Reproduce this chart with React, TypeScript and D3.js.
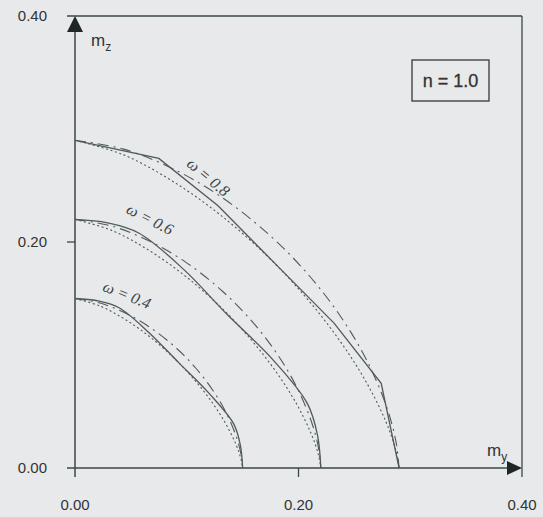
import React from "react";
import * as d3 from "d3";

type Pt = [number, number];

// Axis ticks
const xTicks = [0, 0.2, 0.4];
const yTicks = [0, 0.2, 0.4];
const tickLabels = ["0.00", "0.20", "0.40"];

// Interaction curves m_y – m_z for n = 1.0
const omegaLabels = ["ω = 0.4", "ω = 0.6", "ω = 0.8"];

const solid04: Pt[] = [[0, 0.150], [0.020, 0.148], [0.039, 0.142], [0.066, 0.120], [0.093, 0.093], [0.120, 0.066], [0.142, 0.039], [0.148, 0.020], [0.150, 0]];
const solid06: Pt[] = [[0, 0.220], [0.029, 0.217], [0.057, 0.208], [0.097, 0.176], [0.136, 0.136], [0.176, 0.097], [0.208, 0.057], [0.217, 0.029], [0.220, 0]];
const solid08: Pt[] = [[0, 0.290], [0.075, 0.274], [0.128, 0.232], [0.180, 0.180], [0.232, 0.128], [0.274, 0.075], [0.290, 0]];

const dashed04: Pt[] = [[0, 0.150], [0.0225, 0.146], [0.045, 0.1371], [0.0675, 0.1242], [0.09, 0.1067], [0.108, 0.0885], [0.123, 0.0692], [0.135, 0.0494], [0.144, 0.0287], [0.1485, 0.0124], [0.150, 0]];
const dashed06: Pt[] = [[0, 0.220], [0.033, 0.2141], [0.066, 0.2011], [0.099, 0.1822], [0.132, 0.1564], [0.1584, 0.1298], [0.1804, 0.1016], [0.198, 0.0724], [0.2112, 0.042], [0.2178, 0.0182], [0.220, 0]];
const dashed08: Pt[] = [[0, 0.290], [0.0435, 0.2822], [0.087, 0.2651], [0.1305, 0.2401], [0.174, 0.2062], [0.2088, 0.1711], [0.2378, 0.1339], [0.261, 0.0954], [0.2784, 0.0554], [0.2871, 0.024], [0.290, 0]];

const dotted04: Pt[] = [[0, 0.150], [0.0225, 0.1433], [0.045, 0.1314], [0.0675, 0.1157], [0.09, 0.096], [0.108, 0.0768], [0.123, 0.0576], [0.135, 0.039], [0.144, 0.0209], [0.1485, 0.0081], [0.150, 0]];
const dotted06: Pt[] = [[0, 0.220], [0.033, 0.2102], [0.066, 0.1927], [0.099, 0.1696], [0.132, 0.1408], [0.1584, 0.1126], [0.1804, 0.0845], [0.198, 0.0572], [0.2112, 0.0307], [0.2178, 0.0119], [0.220, 0]];
const dotted08: Pt[] = [[0, 0.290], [0.0435, 0.2771], [0.087, 0.254], [0.1305, 0.2236], [0.174, 0.1856], [0.2088, 0.1485], [0.2378, 0.1114], [0.261, 0.0754], [0.2784, 0.0405], [0.2871, 0.0157], [0.290, 0]];

const W = 543;
const H = 517;
const BG = "#e8e9eb";
const INK = "#3d4749";
const LINE = "#4f5a5c";

export default function App() {
  const x = d3.scaleLinear().domain([0, 0.4]).range([75, 522]);
  const y = d3.scaleLinear().domain([0, 0.4]).range([468, 16]);

  const lin = d3.line<Pt>().x((d) => x(d[0])).y((d) => y(d[1]));
  const smooth = d3
    .line<Pt>()
    .x((d) => x(d[0]))
    .y((d) => y(d[1]))
    .curve(d3.curveCatmullRom.alpha(0.5));

  const solids = [solid04, solid06, solid08];
  const dashes = [dashed04, dashed06, dashed08];
  const dots = [dotted04, dotted06, dotted08];

  // label anchors (data units) and rotations
  const labelPos: { at: Pt; rot: number }[] = [
    { at: [0.024, 0.157], rot: 22 },
    { at: [0.045, 0.226], rot: 27 },
    { at: [0.099, 0.268], rot: 40 },
  ];

  const x0 = x(0);
  const y0 = y(0);
  const xEnd = x(0.4);
  const yTop = y(0.4);

  return (
    <svg
      width={W}
      height={H}
      style={{ position: "absolute", left: 0, top: 0, background: BG }}
      fontFamily="'Liberation Sans', Arial, sans-serif"
    >
      <rect x={0} y={0} width={W} height={H} fill={BG} />

      {/* frame: top and right edges */}
      <line x1={x0 - 8} y1={yTop} x2={xEnd} y2={yTop} stroke={INK} strokeWidth={1.3} />
      <line x1={xEnd} y1={yTop} x2={xEnd} y2={y0 + 9} stroke={INK} strokeWidth={1.3} />

      {/* axes */}
      <line x1={x0 - 8} y1={y0} x2={xEnd - 4} y2={y0} stroke={INK} strokeWidth={1.5} />
      <line x1={x0} y1={yTop + 4} x2={x0} y2={y0 + 9} stroke={INK} strokeWidth={1.5} />
      <path
        d={`M${x0},${yTop} L${x0 - 8},${yTop + 16} L${x0 + 8},${yTop + 16} Z`}
        fill="#1f2628"
      />
      <path
        d={`M${xEnd},${y0} L${xEnd - 15},${y0 - 7} L${xEnd - 15},${y0 + 7} Z`}
        fill="#1f2628"
      />

      {/* middle ticks */}
      <line x1={x0 - 8} y1={y(0.2)} x2={x0} y2={y(0.2)} stroke={INK} strokeWidth={1.3} />
      <line x1={x(0.2)} y1={y0} x2={x(0.2)} y2={y0 + 9} stroke={INK} strokeWidth={1.3} />

      {/* tick labels */}
      {yTicks.map((t, i) => (
        <text
          key={"yt" + i}
          x={47}
          y={y(t)}
          dy="0.36em"
          textAnchor="end"
          fontSize={15}
          fill="#333"
        >
          {tickLabels[i]}
        </text>
      ))}
      {xTicks.map((t, i) => (
        <text
          key={"xt" + i}
          x={x(t)}
          y={505}
          dy="0.36em"
          textAnchor="middle"
          fontSize={15}
          fill="#333"
        >
          {tickLabels[i]}
        </text>
      ))}

      {/* axis titles */}
      <text x={91} y={46} fontSize={17} fill="#333">
        m<tspan fontSize={12} dy={5}>z</tspan>
      </text>
      <text x={487} y={456} fontSize={17} fill="#333">
        m<tspan fontSize={12} dy={5}>y</tspan>
      </text>

      {/* legend box */}
      <rect x={412} y={60} width={77} height={41} fill="none" stroke={INK} strokeWidth={1.4} />
      <text x={450.5} y={81} dy="0.36em" textAnchor="middle" fontSize={18} fill="#333" stroke="#333" strokeWidth={0.3}>
        n = 1.0
      </text>

      {/* curves */}
      {dots.map((d, i) => (
        <path key={"do" + i} d={smooth(d) || ""} fill="none" stroke={LINE} strokeWidth={1.1} strokeDasharray="2,2.6" />
      ))}
      {dashes.map((d, i) => (
        <path key={"da" + i} d={smooth(d) || ""} fill="none" stroke={LINE} strokeWidth={1.1} strokeDasharray="11,5,2,5" />
      ))}
      {solids.map((d, i) => (
        <path
          key={"so" + i}
          d={(i === 2 ? lin(d) : smooth(d)) || ""}
          fill="none"
          stroke={LINE}
          strokeWidth={1.3}
        />
      ))}

      {/* curve labels */}
      {labelPos.map((p, i) => (
        <text
          key={"lb" + i}
          transform={`translate(${x(p.at[0])},${y(p.at[1])}) rotate(${p.rot})`}
          fontFamily="'Liberation Serif', 'Times New Roman', serif"
          fontStyle="italic"
          fontSize={16}
          fill="#3a4244"
        >
          {omegaLabels[i]}
        </text>
      ))}
    </svg>
  );
}
